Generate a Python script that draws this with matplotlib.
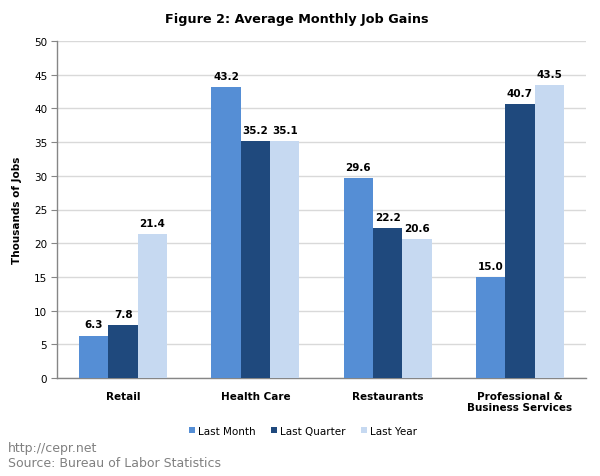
import matplotlib
matplotlib.use("Agg")
import matplotlib.pyplot as plt
import numpy as np

categories = ["Retail", "Health Care", "Restaurants", "Professional &\nBusiness Services"]
series_names = ["Last Month", "Last Quarter", "Last Year"]
last_month = [6.3, 43.2, 29.6, 15.0]
last_quarter = [7.8, 35.2, 22.2, 40.7]
last_year = [21.4, 35.1, 20.6, 43.5]
colors = ["#558ED5", "#1F497D", "#C6D9F1"]
yticks = [0, 5, 10, 15, 20, 25, 30, 35, 40, 45, 50]

plt.rcParams['font.family'] = ['DejaVu Sans']

fig = plt.figure(figsize=(6.0, 4.77), dpi=100)
ax = fig.add_axes([57/600, 1-379/477, (586-57)/600, (379-42)/477])

x = np.arange(len(categories))
w = 2/9
for i, (vals, name) in enumerate(zip([last_month, last_quarter, last_year], series_names)):
    pos = x + (i-1)*w
    ax.bar(pos, vals, width=w, color=colors[i], label=name, zorder=3)
    for p, v in zip(pos, vals):
        ax.text(p, v + 0.9, f"{v:.1f}", ha="center", va="bottom",
                fontsize=7.5, fontweight="bold", color="black", zorder=4)

ax.set_xlim(-0.5, len(categories)-0.5)
ax.set_ylim(0, 50)
ax.set_yticks(yticks)
ax.set_yticklabels([str(t) for t in yticks], fontsize=7.5)
ax.set_xticks(x)
ax.set_xticklabels(categories, fontsize=7.5, fontweight="bold", linespacing=1.15)
ax.tick_params(axis="x", length=0, pad=9.5)
ax.tick_params(axis="y", length=4, color="#868686", pad=3)
ax.yaxis.grid(True, color="#D9D9D9", linewidth=1, zorder=0)
ax.set_axisbelow(True)
for s in ["top", "right"]:
    ax.spines[s].set_visible(False)
for s in ["left", "bottom"]:
    ax.spines[s].set_color("#868686")
    ax.spines[s].set_linewidth(1)
ax.set_ylabel("Thousands of Jobs", fontsize=7.5, fontweight="bold", labelpad=9)

fig.text(297/600, 1-20/477, "Figure 2: Average Monthly Job Gains", ha="center", va="center",
         fontsize=9.2, fontweight="bold")

fig.legend(loc="center", bbox_to_anchor=(303/600, 1-432/477), ncol=3, frameon=False,
           fontsize=7.5, handlelength=0.55, handleheight=0.55, handletextpad=0.3,
           columnspacing=1.5)

fig.text(8/600, 1-449/477, "http://cepr.net", ha="left", va="center", fontsize=9, color="#808080")
fig.text(8/600, 1-464/477, "Source: Bureau of Labor Statistics", ha="left", va="center",
         fontsize=9, color="#808080")

fig.savefig("out.png", dpi=100)
